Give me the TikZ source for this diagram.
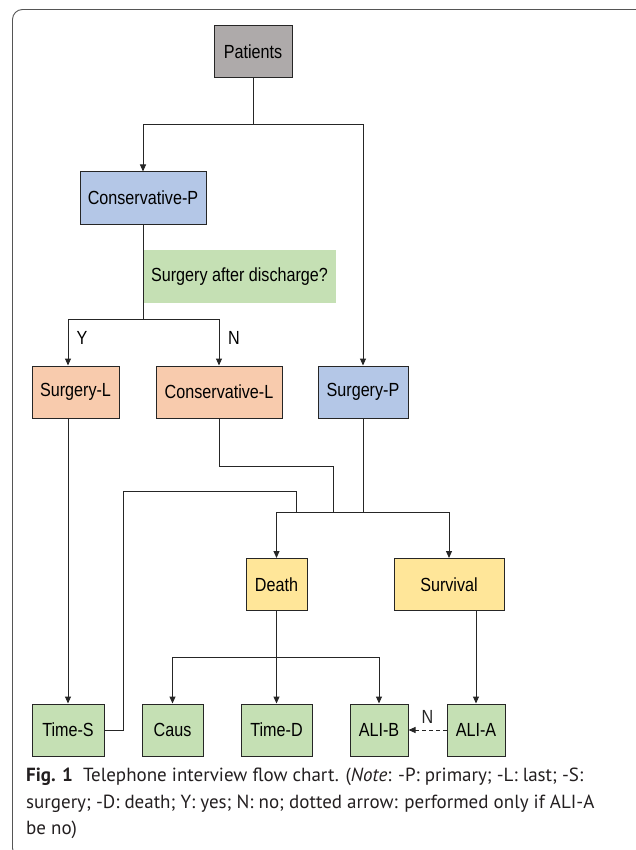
\documentclass[tikz,border=0pt]{standalone}
\usepackage{fontspec}
\setmainfont{Liberation Sans}
\newfontfamily\cajafont[FakeStretch=0.85]{Liberation Sans}
\newfontfamily\notafont{PT Sans}
\usetikzlibrary{arrows.meta, calc}
\definecolor{tinta}{HTML}{231F20}
\definecolor{trazo}{HTML}{262626}
\definecolor{marco}{HTML}{555555}
\definecolor{gris}{HTML}{AEAAAA}
\definecolor{azul}{HTML}{B4C7E7}
\definecolor{verde}{HTML}{C5E0B4}
\definecolor{salmon}{HTML}{F8CBAD}
\definecolor{amarillo}{HTML}{FFE699}
\tikzset{
  caja/.style={rectangle, draw=trazo, line width=1pt, minimum height=52pt, inner sep=0pt,
               text centered, font=\cajafont\fontsize{19}{22}\selectfont},
  pregunta/.style={rectangle, fill=verde, minimum width=193pt, minimum height=53pt, inner sep=0pt,
                   text centered, font=\cajafont\fontsize{19}{22}\selectfont},
  etiq/.style={font=\cajafont\fontsize{19}{22}\selectfont, inner sep=0pt},
  tramo/.style={line width=1pt, color=trazo},
  arrow/.style={line width=1pt, -{Triangle[length=7pt,width=6pt]}, color=trazo}
}
\begin{document}
\begin{tikzpicture}[x=1pt, y=-1pt]
  \useasboundingbox (0,0) rectangle (636,850);
  \clip (0,0) rectangle (636,850);
  \draw [marco, line width=0.9pt, rounded corners=10pt] (12.5,9.5) rectangle (660,858);
  % cajas
  \node (pac) [caja, fill=gris, minimum width=78pt] at (253,51.5) {Patients};
  \node (cp) [caja, fill=azul, minimum width=126pt] at (143,198) {Conservative-P};
  \node (preg) [pregunta] at (239.5,276.5) {Surgery after discharge?};
  \node (sl) [caja, fill=salmon, minimum width=87pt] at (75.5,392) {Surgery-L};
  \node (cl) [caja, fill=salmon, minimum width=126pt] at (219,392) {Conservative-L};
  \node (sp) [caja, fill=azul, minimum width=90pt] at (363,392) {Surgery-P};
  \node (de) [caja, fill=amarillo, minimum width=61pt] at (276.5,584.5) {Death};
  \node (sv) [caja, fill=amarillo, minimum width=110pt] at (449,584.5) {Survival};
  \node (ts) [caja, fill=verde, minimum width=72pt] at (68,730) {Time-S};
  \node (ca) [caja, fill=verde, minimum width=61pt] at (172.5,730) {Caus};
  \node (td) [caja, fill=verde, minimum width=71pt] at (276.5,730) {Time-D};
  \node (ab) [caja, fill=verde, minimum width=58pt] at (379,730) {ALI-B};
  \node (aa) [caja, fill=verde, minimum width=58pt] at (476,730) {ALI-A};
  % conexiones
  \coordinate (j1) at (253,125);
  \draw [tramo] (pac) -- (j1);
  \draw [arrow] (j1) -| (cp.north);
  \draw [arrow] (j1) -| (sp.north);
  \coordinate (j2) at (143,319);
  \draw [tramo] (cp) -- (j2);
  \draw [arrow] (j2) -| (ts.north |- sl.north);
  \draw [arrow] (j2) -| (cl.north);
  \node (ly) [etiq] at (82,338) {Y};
  \node (ln) [etiq] at (234,338) {N};
  \draw [arrow] (ts.north |- sl.south) -- (ts.north);
  \coordinate (c1) at (333,466);
  \coordinate (j3) at (333,512);
  \draw [tramo] (cl.south) |- (c1) -- (j3);
  \draw [tramo] (sp) -- (sp |- j3);
  \draw [arrow] (j3) -| (de.north);
  \draw [arrow] (j3) -| (sv.north);
  \coordinate (c2) at (123,491);
  \coordinate (c3) at (296,512);
  \draw [tramo] (ts.east) -| (c2) -| (c3);
  \draw [arrow] (de) -- (td);
  \coordinate (j5) at (276.5,657);
  \draw [arrow] (j5) -| (ca.north);
  \draw [arrow] (j5) -| (ab.north);
  \draw [arrow] (aa.north |- sv.south) -- (aa.north);
  \draw [arrow, dash pattern=on 4pt off 3pt] (aa) -- (ab) node [etiq, midway, above=6pt] {N};
  % pie de figura
  \node (pie) [anchor=north west, align=left, inner sep=0pt, text=tinta,
               font=\notafont\fontsize{19}{26.5}\selectfont] at (26,768)
    {\textbf{Fig. 1}\hspace{10pt}Telephone interview flow chart. (\textit{Note}: -P: primary; -L: last; -S:\\
     surgery; -D: death; Y: yes; N: no; dotted arrow: performed only if ALI-A\\
     be no)};
\end{tikzpicture}
\end{document}
